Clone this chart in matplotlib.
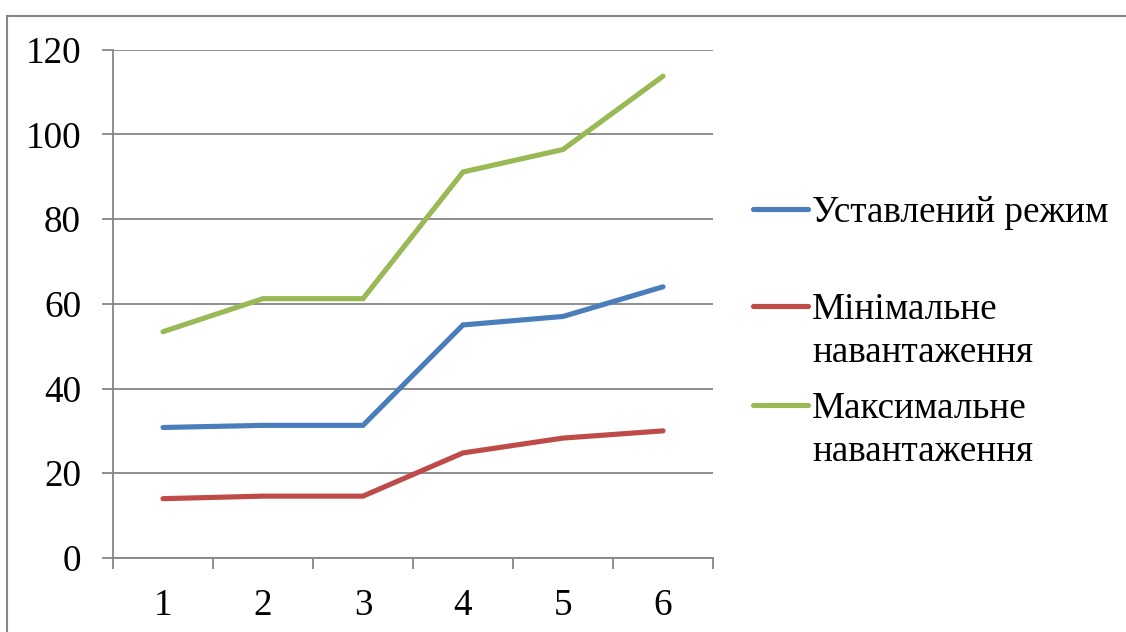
import matplotlib.pyplot as plt
from matplotlib.lines import Line2D
from matplotlib.patches import Rectangle

# Номер досліду
X = [1, 2, 3, 4, 5, 6]

# Значення для трьох режимів
ustal = [30.8, 31.3, 31.3, 55.0, 57.0, 64.0]
minim = [14.0, 14.6, 14.6, 24.8, 28.3, 30.0]
maksym = [53.4, 61.2, 61.2, 91.1, 96.4, 113.7]

names = ['Уставлений режим', 'Мінімальне\nнавантаження', 'Максимальне\nнавантаження']
colors = ['#4A7EBB', '#BE4B48', '#98B954']

plt.rcParams['font.family'] = ['Liberation Serif', 'DejaVu Serif']
grey = '#868686'
fs = 26.7

fig = plt.figure(figsize=(11.26, 6.32), dpi=100)
ax = fig.add_axes([113/1126, 1 - 558/632, 600/1126, 508.5/632])

for Y, c in zip([ustal, minim, maksym], colors):
    ax.plot(X, Y, color=c, lw=3.7, solid_capstyle='round', solid_joinstyle='miter')

ax.set_xlim(0.5, 6.5)
ax.set_ylim(0, 120)
ax.set_yticks(range(0, 121, 20))
ax.grid(axis='y', color=grey, lw=1.3)
ax.set_axisbelow(True)

# межі категорій - великі поділки, підписи - по центру
ax.set_xticks([x + 0.5 for x in range(0, 7)])
ax.set_xticklabels([])
ax.set_xticks(X, minor=True)
ax.set_xticklabels([str(x) for x in X], minor=True)
ax.tick_params(axis='x', which='major', length=8, width=1.3, color=grey, direction='out')
ax.tick_params(axis='x', which='minor', length=0, pad=22, labelsize=fs)
ax.tick_params(axis='y', length=8, width=1.3, color=grey, direction='out', pad=15, labelsize=fs)

for s in ['top', 'right']:
    ax.spines[s].set_visible(False)
for s in ['left', 'bottom']:
    ax.spines[s].set_color(grey)
    ax.spines[s].set_linewidth(1.3)

# легенда праворуч: лінія навпроти першого рядка підпису
leg_y = [208.5, 306, 404.5]
for name, c, y in zip(names, colors, leg_y):
    fy = 1 - y / 632
    fig.add_artist(Line2D([753/1126, 808/1126], [fy, fy], color=c, lw=3.7,
                          solid_capstyle='round'))
    for i, line in enumerate(name.split('\n')):
        base = y + 13 + i * 43.5
        fig.text(812/1126, 1 - base / 632, line, fontsize=fs, va='baseline', ha='left')

# рамка області діаграми
fig.add_artist(Rectangle((7/1126, -0.02), 1.1, 1 - 15.5/632 + 0.02,
                         fill=False, edgecolor=grey, lw=1.5, transform=fig.transFigure,
                         clip_on=False))

fig.savefig('out.png', dpi=100)
